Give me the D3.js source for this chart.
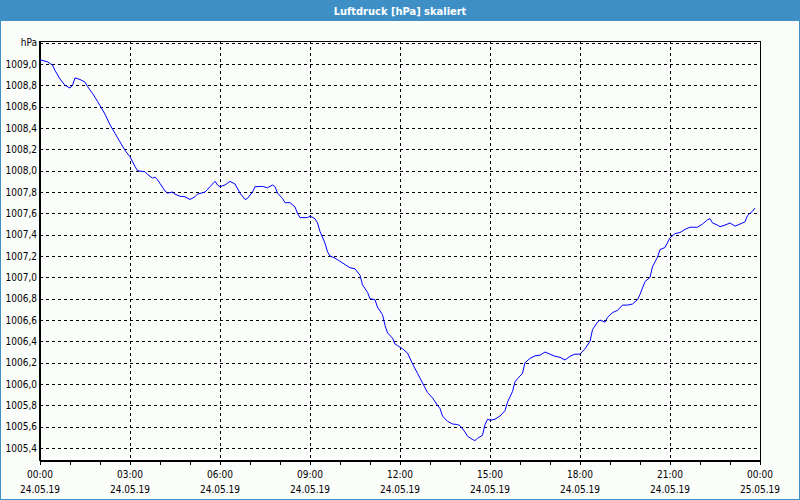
<!DOCTYPE html>
<html>
<head>
<meta charset="utf-8">
<script src="https://cdn.jsdelivr.net/npm/d3@7"></script>
<style>
  html, body { margin: 0; padding: 0; background: #fff; }
  svg { display: block; }
  text { font-family: Tahoma, "DejaVu Sans Condensed", "DejaVu Sans", sans-serif; }
</style>
</head>
<body>
<div id="chart"></div>
<script>
// ---- data ----
const title = "Luftdruck [hPa] skaliert";
const unitLabel = "hPa";
// minutes after 24.05.19 00:00
const minutes = [0,15,25,30,40,50,60,65,70,80,90,95,105,115,120,130,140,150,160,170,180,190,195,210,215,225,230,235,
  240,250,255,265,270,280,290,300,310,315,330,340,350,355,360,370,380,390,400,410,415,425,430,445,455,465,470,475,
  485,490,500,510,515,520,535,540,550,555,560,570,575,580,590,600,610,620,630,640,645,655,660,670,675,685,690,695,705,710,
  715,725,735,745,755,765,775,785,795,800,805,815,825,835,840,850,855,865,870,875,885,890,895,900,910,920,930,935,945,950,955,
  965,970,980,990,1000,1010,1020,1030,1040,1050,1060,1070,1080,1090,1100,1105,1115,1120,1130,1135,1145,1155,1165,1175,1185,1195,
  1200,1210,1220,1225,1235,1240,1250,1260,1270,1280,1290,1300,1315,1325,1335,1340,1345,1355,1360,1370,1380,1390,1400,1410,1415,1425,1430];
const pressure = [1009.04,1009.02,1008.99,1008.94,1008.86,1008.80,1008.775,1008.80,1008.87,1008.855,1008.83,1008.79,1008.725,1008.65,1008.61,1008.53,1008.43,1008.35,1008.27,1008.19,1008.13,1008.04,1008.00,1007.99,1007.965,1007.93,1007.94,1007.915,
  1007.88,1007.81,1007.79,1007.80,1007.78,1007.76,1007.756,1007.73,1007.756,1007.78,1007.80,1007.85,1007.90,1007.866,1007.85,1007.866,1007.90,1007.875,1007.79,1007.73,1007.74,1007.80,1007.85,1007.853,1007.84,1007.866,1007.85,1007.79,
  1007.74,1007.70,1007.70,1007.66,1007.60,1007.56,1007.56,1007.575,1007.55,1007.51,1007.43,1007.32,1007.24,1007.20,1007.18,1007.15,1007.12,1007.09,1007.08,1007.02,1006.93,1006.86,1006.80,1006.79,1006.72,1006.65,1006.55,1006.48,1006.43,1006.375,
  1006.36,1006.33,1006.29,1006.19,1006.10,1006.01,1005.92,1005.87,1005.80,1005.77,1005.70,1005.65,1005.625,1005.62,1005.61,1005.55,1005.51,1005.48,1005.47,1005.49,1005.52,1005.62,1005.67,1005.66,1005.67,1005.70,1005.75,1005.83,1005.93,1006.02,1006.05,
  1006.10,1006.20,1006.24,1006.265,1006.27,1006.30,1006.28,1006.26,1006.25,1006.225,1006.26,1006.28,1006.28,1006.33,1006.40,1006.51,1006.58,1006.60,1006.58,1006.625,1006.67,1006.69,1006.74,1006.74,1006.75,1006.79,
  1006.84,1006.96,1007.00,1007.10,1007.19,1007.26,1007.28,1007.37,1007.41,1007.42,1007.45,1007.47,1007.47,1007.50,1007.54,1007.55,1007.51,1007.49,1007.475,1007.49,1007.51,1007.48,1007.50,1007.52,1007.58,1007.62,1007.65];
const yTicks = [1005.4,1005.6,1005.8,1006.0,1006.2,1006.4,1006.6,1006.8,1007.0,1007.2,1007.4,1007.6,1007.8,1008.0,1008.2,1008.4,1008.6,1008.8,1009.0,1009.2];
const xTickMinutes = [0,180,360,540,720,900,1080,1260,1440];
const xTimeLabels = ["00:00","03:00","06:00","09:00","12:00","15:00","18:00","21:00","00:00"];
const xDateLabels = ["24.05.19","24.05.19","24.05.19","24.05.19","24.05.19","24.05.19","24.05.19","24.05.19","25.05.19"];
const yDomain = [1005.2875, 1009.2];
const xDomain = [0, 1440];

// ---- layout ----
const W = 800, H = 500;
const plot = { left: 40, right: 760, top: 41, bottom: 460 };

const svg = d3.select("#chart").append("svg").attr("width", W).attr("height", H);

// window background and border
svg.append("rect").attr("x", 0.5).attr("y", 0.5).attr("width", W - 1).attr("height", H - 1)
  .attr("fill", "#fbfdfb").attr("stroke", "#3d8fc6");
svg.append("rect").attr("x", 0).attr("y", 0).attr("width", W).attr("height", 21).attr("fill", "#3d8fc6");
svg.append("text").attr("x", W / 2).attr("y", 14.5).attr("text-anchor", "middle")
  .attr("fill", "#fff").attr("font-weight", "bold").attr("font-size", "11px").text(title);

const x = d3.scaleLinear().domain(xDomain).range([plot.left, plot.right]);
const y = d3.scaleLinear().domain(yDomain).range([plot.bottom, 42.7]);

// gridlines
const grid = svg.append("g").attr("stroke", "#000").attr("stroke-dasharray", "3,3").attr("shape-rendering", "crispEdges");
grid.selectAll("line.h").data(yTicks).join("line").attr("class", "h")
  .attr("x1", plot.left).attr("x2", plot.right)
  .attr("y1", d => Math.round(y(d)) + 0.5).attr("y2", d => Math.round(y(d)) + 0.5);
grid.selectAll("line.v").data(xTickMinutes.slice(1, -1)).join("line").attr("class", "v")
  .attr("y1", plot.top).attr("y2", plot.bottom)
  .attr("x1", d => Math.round(x(d)) + 0.5).attr("x2", d => Math.round(x(d)) + 0.5);

// frame
svg.append("rect").attr("x", plot.left + 0.5).attr("y", plot.top + 0.5)
  .attr("width", plot.right - plot.left).attr("height", plot.bottom - plot.top)
  .attr("fill", "none").attr("stroke", "#000").attr("shape-rendering", "crispEdges");
svg.append("line").attr("x1", plot.left - 0.5).attr("x2", plot.left - 0.5).attr("y1", plot.top).attr("y2", plot.bottom + 1)
  .attr("stroke", "#000").attr("shape-rendering", "crispEdges");
svg.append("line").attr("x1", plot.left).attr("x2", plot.right + 1).attr("y1", plot.bottom + 1.5).attr("y2", plot.bottom + 1.5)
  .attr("stroke", "#000").attr("shape-rendering", "crispEdges");

// x axis (hour ticks)
const xAxis = d3.axisBottom(x).tickValues(d3.range(0, 1441, 60)).tickSize(4).tickFormat("");
const gx = svg.append("g").attr("transform", `translate(0,${plot.bottom + 1})`).call(xAxis);
gx.select(".domain").remove();
gx.selectAll("line").attr("stroke", "#000").attr("shape-rendering", "crispEdges");

const xl = svg.append("g").attr("font-size", "10px").attr("fill", "#000").attr("text-anchor", "middle");
xl.selectAll("text.t").data(xTickMinutes).join("text").attr("class", "t")
  .attr("x", d => x(d)).attr("y", 478).text((d, i) => xTimeLabels[i]);
xl.selectAll("text.d").data(xTickMinutes).join("text").attr("class", "d")
  .attr("x", d => x(d)).attr("y", 493).text((d, i) => xDateLabels[i]);

// y labels
const yl = svg.append("g").attr("font-size", "10px").attr("fill", "#000").attr("text-anchor", "end");
yl.selectAll("text").data(yTicks.slice(0, -1)).join("text")
  .attr("x", 37).attr("y", d => y(d) + 3.5)
  .text(d => d3.format(".1f")(d).replace(".", ","));
yl.append("text").attr("x", 37).attr("y", y(1009.2) + 3.5).text(unitLabel);

// line
const data = minutes.map((m, i) => [m, pressure[i]]);
svg.append("path").datum(data)
  .attr("fill", "none").attr("stroke", "#0000ff").attr("stroke-width", 1)
  .attr("d", d3.line().x(d => x(d[0])).y(d => y(d[1])));
</script>
</body>
</html>
